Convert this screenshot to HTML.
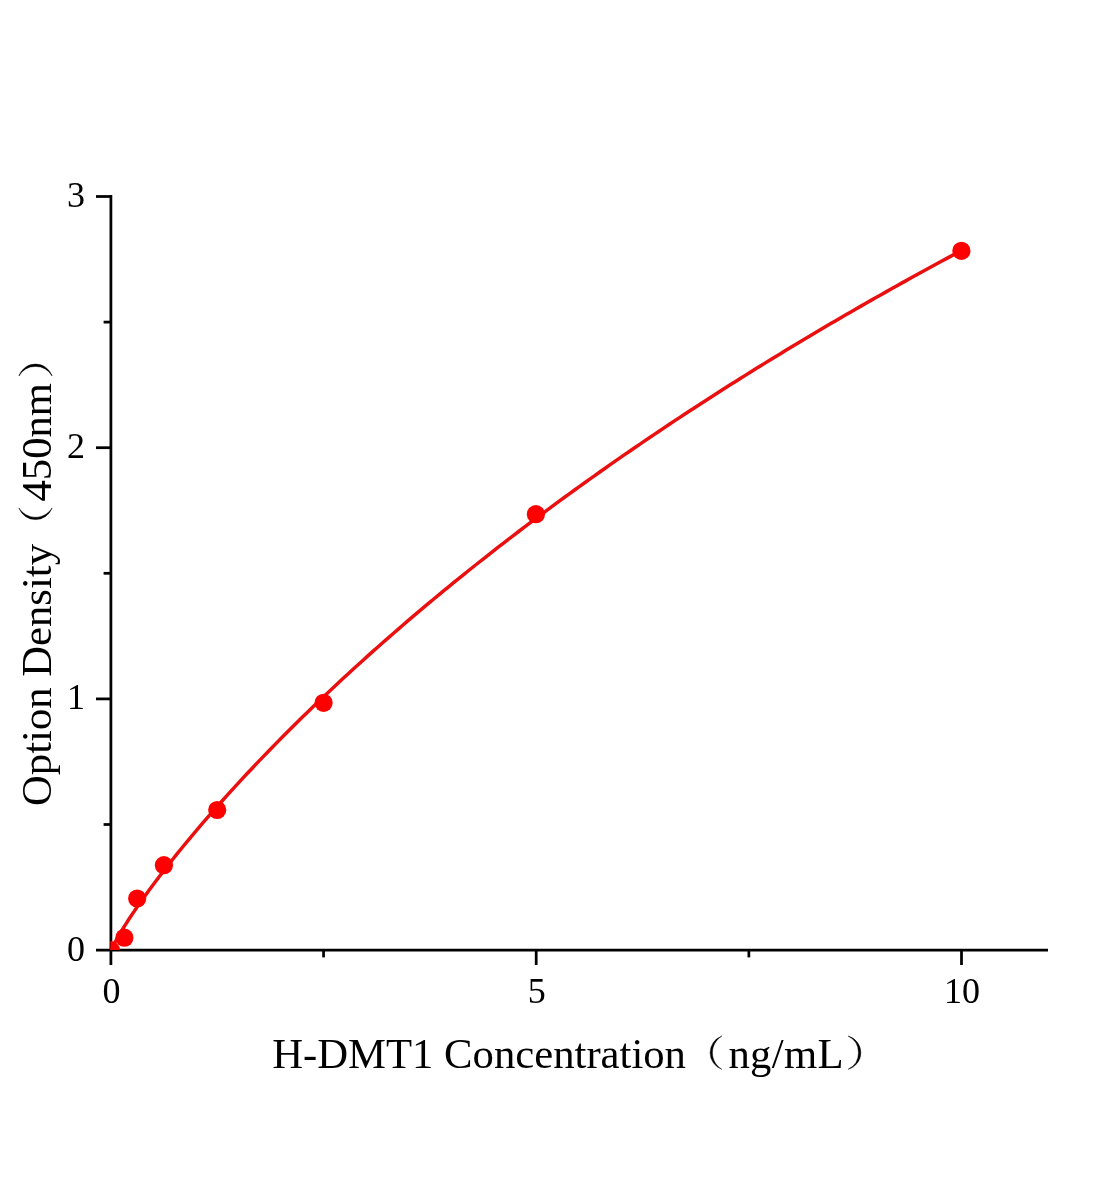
<!DOCTYPE html>
<html lang="en"><head><meta charset="utf-8"><title>H-DMT1 standard curve</title>
<style>html,body{margin:0;padding:0;background:#fff}body{width:1104px;height:1200px;overflow:hidden}svg{display:block}text{font-family:"Liberation Serif",serif;fill:#000}.t{filter:grayscale(1)}</style></head><body>
<svg width="1104" height="1200" viewBox="0 0 1104 1200">
<rect width="1104" height="1200" fill="#fff"/>
<defs><clipPath id="plot"><rect x="110.4" y="150" width="960" height="800.1"/></clipPath></defs>
<g stroke="#000" stroke-width="2.75" fill="none" stroke-linecap="butt">
<line x1="110.9" y1="195.12" x2="110.9" y2="965"/>
<line x1="96" y1="950.1" x2="1048" y2="950.1"/>
<line x1="96" y1="698.90" x2="110.9" y2="698.90"/>
<line x1="96" y1="447.70" x2="110.9" y2="447.70"/>
<line x1="96" y1="196.50" x2="110.9" y2="196.50"/>
<line x1="103.6" y1="824.50" x2="110.9" y2="824.50"/>
<line x1="103.6" y1="573.30" x2="110.9" y2="573.30"/>
<line x1="103.6" y1="322.10" x2="110.9" y2="322.10"/>
<line x1="536.20" y1="950.1" x2="536.20" y2="965"/>
<line x1="961.50" y1="950.1" x2="961.50" y2="965"/>
<line x1="323.55" y1="950.1" x2="323.55" y2="957.4"/>
<line x1="748.85" y1="950.1" x2="748.85" y2="957.4"/>
</g>
<g clip-path="url(#plot)">
<path d="M110.90,951.10 L112.21,947.88 L113.52,945.18 L114.83,942.67 L116.13,940.25 L117.44,937.92 L118.75,935.65 L120.06,933.42 L121.37,931.24 L122.68,929.10 L123.99,926.99 L125.29,924.90 L126.60,922.85 L127.91,920.81 L129.22,918.80 L130.53,916.81 L131.84,914.84 L133.15,912.89 L134.46,910.96 L135.76,909.04 L137.07,907.13 L138.38,905.24 L139.69,903.37 L141.00,901.50 L142.31,899.65 L143.62,897.81 L144.92,895.98 L146.23,894.17 L147.54,892.36 L148.85,890.57 L150.16,888.78 L151.47,887.01 L152.78,885.24 L154.08,883.48 L155.39,881.74 L156.70,880.00 L158.01,878.26 L159.32,876.54 L160.63,874.83 L161.94,873.12 L166.96,866.63 L171.99,860.24 L177.02,853.95 L182.05,847.74 L187.08,841.62 L192.11,835.57 L197.14,829.60 L202.17,823.70 L207.19,817.87 L212.22,812.10 L217.25,806.39 L222.28,800.74 L227.31,795.14 L232.34,789.60 L237.37,784.11 L242.40,778.67 L247.42,773.28 L252.45,767.94 L257.48,762.64 L262.51,757.39 L267.54,752.18 L272.57,747.02 L277.60,741.89 L282.62,736.80 L287.65,731.76 L292.68,726.75 L297.71,721.78 L302.74,716.84 L307.77,711.94 L312.80,707.07 L317.83,702.24 L322.85,697.45 L327.88,692.68 L332.91,687.95 L337.94,683.25 L342.97,678.58 L348.00,673.94 L353.03,669.32 L358.06,664.74 L363.08,660.19 L368.11,655.67 L373.14,651.17 L378.17,646.70 L383.20,642.26 L388.23,637.85 L393.26,633.46 L398.29,629.09 L403.31,624.76 L408.34,620.44 L413.37,616.15 L418.40,611.89 L423.43,607.65 L428.46,603.43 L433.49,599.24 L438.51,595.07 L443.54,590.92 L448.57,586.80 L453.60,582.69 L458.63,578.61 L463.66,574.55 L468.69,570.51 L473.72,566.50 L478.74,562.50 L483.77,558.52 L488.80,554.57 L493.83,550.63 L498.86,546.72 L503.89,542.82 L508.92,538.94 L513.95,535.09 L518.97,531.25 L524.00,527.43 L529.03,523.63 L534.06,519.84 L539.09,516.08 L544.12,512.33 L549.15,508.60 L554.17,504.89 L559.20,501.20 L564.23,497.52 L569.26,493.86 L574.29,490.21 L579.32,486.59 L584.35,482.98 L589.38,479.39 L594.40,475.81 L599.43,472.25 L604.46,468.70 L609.49,465.17 L614.52,461.66 L619.55,458.16 L624.58,454.68 L629.61,451.21 L634.63,447.76 L639.66,444.32 L644.69,440.90 L649.72,437.49 L654.75,434.09 L659.78,430.72 L664.81,427.35 L669.84,424.00 L674.86,420.66 L679.89,417.34 L684.92,414.03 L689.95,410.74 L694.98,407.45 L700.01,404.19 L705.04,400.93 L710.06,397.69 L715.09,394.46 L720.12,391.25 L725.15,388.04 L730.18,384.85 L735.21,381.68 L740.24,378.51 L745.27,375.36 L750.29,372.22 L755.32,369.10 L760.35,365.98 L765.38,362.88 L770.41,359.79 L775.44,356.71 L780.47,353.64 L785.50,350.59 L790.52,347.55 L795.55,344.52 L800.58,341.50 L805.61,338.49 L810.64,335.49 L815.67,332.50 L820.70,329.53 L825.72,326.57 L830.75,323.61 L835.78,320.67 L840.81,317.74 L845.84,314.82 L850.87,311.91 L855.90,309.02 L860.93,306.13 L865.95,303.25 L870.98,300.38 L876.01,297.53 L881.04,294.68 L886.07,291.85 L891.10,289.02 L896.13,286.21 L901.16,283.40 L906.18,280.60 L911.21,277.82 L916.24,275.04 L921.27,272.28 L926.30,269.52 L931.33,266.77 L936.36,264.04 L941.39,261.31 L946.41,258.59 L951.44,255.88 L956.47,253.18 L961.50,250.49" fill="none" stroke="#ea1010" stroke-width="3.5" stroke-linejoin="round" stroke-linecap="butt"/>
<circle cx="110.9" cy="950.1" r="9.1" fill="#ff0000"/>
<circle cx="124.4" cy="937.7" r="9.1" fill="#ff0000"/>
<circle cx="137.2" cy="898.5" r="9.1" fill="#ff0000"/>
<circle cx="163.9" cy="865.2" r="9.1" fill="#ff0000"/>
<circle cx="217.2" cy="810.0" r="9.1" fill="#ff0000"/>
<circle cx="323.6" cy="702.8" r="9.1" fill="#ff0000"/>
<circle cx="535.9" cy="514.2" r="9.1" fill="#ff0000"/>
<circle cx="961.4" cy="250.8" r="9.1" fill="#ff0000"/>
</g>
<g class="t" font-size="36px">
<text x="85.0" y="960.60" text-anchor="end">0</text>
<text x="85.0" y="709.40" text-anchor="end">1</text>
<text x="85.0" y="458.20" text-anchor="end">2</text>
<text x="85.0" y="207.00" text-anchor="end">3</text>
<text x="111.40" y="1003" text-anchor="middle">0</text>
<text x="536.70" y="1003" text-anchor="middle">5</text>
<text x="962.00" y="1003" text-anchor="middle">10</text>
</g>
<g class="t" transform="translate(273,1068.4)" font-size="42.7px">
<text x="-0.8" y="0">H-DMT1 Concentration</text>
<path d="M448.8,-32.3 A17.63,17.63 0 0 0 448.8,0.9 A19.36,19.36 0 0 1 448.8,-32.3 Z" fill="#000" stroke="#000" stroke-width="0.5" stroke-linejoin="round"/>
<text x="455.4" y="0" letter-spacing="0.35">ng/mL</text>
<path d="M575.2,-32.3 A17.23,17.23 0 0 1 575.2,0.9 A18.53,18.53 0 0 0 575.2,-32.3 Z" fill="#000" stroke="#000" stroke-width="0.5" stroke-linejoin="round"/>
</g>
<g class="t" transform="translate(51.2,804.5) rotate(-90)" font-size="42.7px">
<text x="-1.5" y="0">Option Density</text>
<path d="M296.6,-32.3 A17.63,17.63 0 0 0 296.6,0.9 A19.36,19.36 0 0 1 296.6,-32.3 Z" fill="#000" stroke="#000" stroke-width="0.5" stroke-linejoin="round"/>
<text x="303.0" y="0">450nm</text>
<path d="M428.5,-32.3 A17.53,17.53 0 0 1 428.5,0.9 A19.15,19.15 0 0 0 428.5,-32.3 Z" fill="#000" stroke="#000" stroke-width="0.5" stroke-linejoin="round"/>
</g>
</svg></body></html>
